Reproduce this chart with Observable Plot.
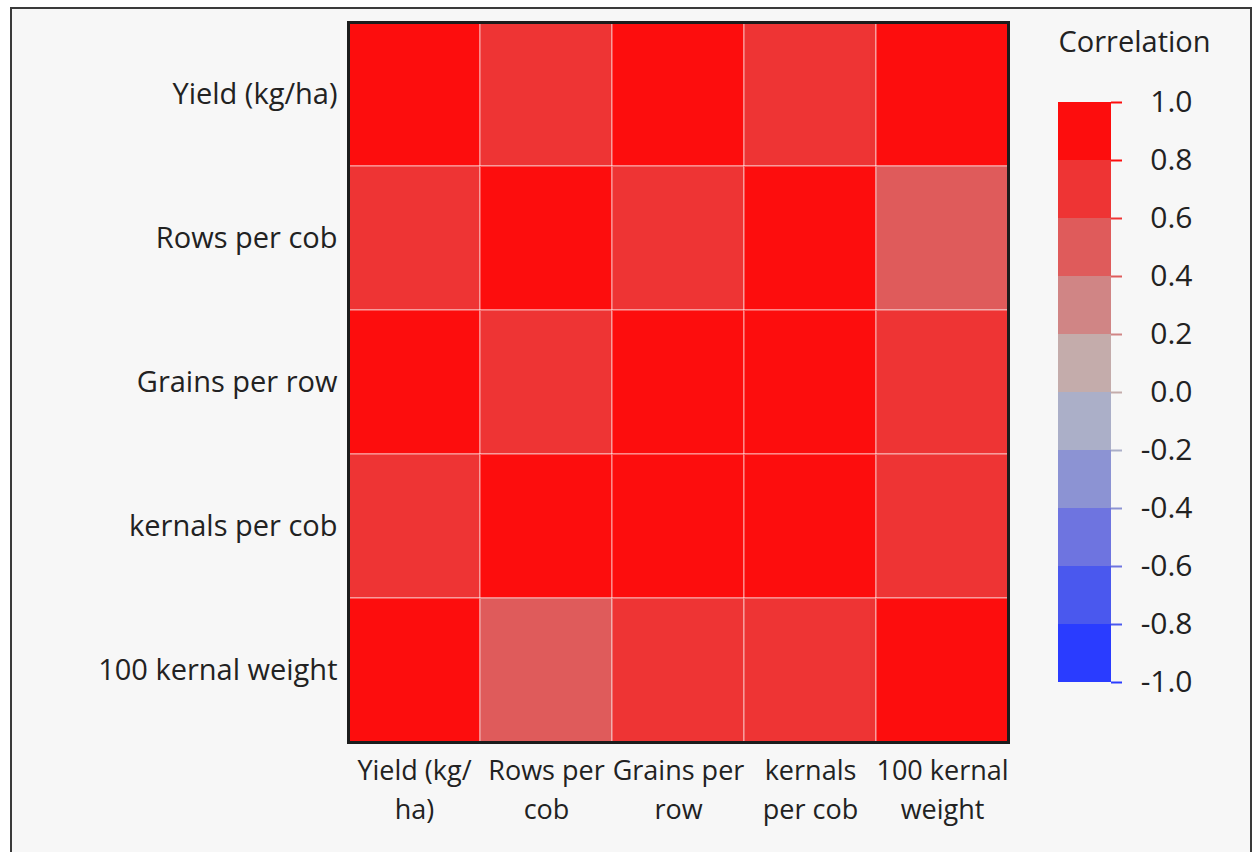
<!DOCTYPE html>
<html>
<head>
<meta charset="utf-8">
<script src="https://cdn.jsdelivr.net/npm/d3@7"></script>
<script src="https://cdn.jsdelivr.net/npm/@observablehq/plot@0.6"></script>
<style>
  html, body { margin: 0; padding: 0; background: #ffffff; }
  #page { position: relative; width: 1252px; height: 852px; overflow: hidden; }
  #frame { position: absolute; left: 10px; top: 7px; width: 1238px; height: 860px;
           border: 2px solid #3a3a3a; background: #f7f7f7; }
  #main { position: absolute; left: 0; top: 0; }
  #legend { position: absolute; left: 1040px; top: 0; }
</style>
</head>
<body>
<div id="page">
  <div id="frame"></div>
  <div id="main"></div>
  <div id="legend"></div>
</div>
<script>
// ---- data ----
const rowLabels = ["Yield (kg/ha)", "Rows per cob", "Grains per row", "kernals per cob", "100 kernal weight"];
const colLabels = ["Yield (kg/\nha)", "Rows per\ncob", "Grains per\nrow", "kernals\nper cob", "100 kernal\nweight"];
const correlations = [
  [1.00, 0.72, 0.93, 0.74, 0.88],
  [0.72, 1.00, 0.70, 0.90, 0.52],
  [0.93, 0.70, 1.00, 0.92, 0.68],
  [0.74, 0.90, 0.92, 1.00, 0.66],
  [0.88, 0.52, 0.68, 0.66, 1.00]
];
const binEdges = [-1.0, -0.8, -0.6, -0.4, -0.2, 0.0, 0.2, 0.4, 0.6, 0.8, 1.0];
const binColors = ["#2a3cff", "#4a58ee", "#6e74e0", "#8c93d3", "#abafc8",
                   "#c4acab", "#d08585", "#df5b5b", "#ee3434", "#fd0d0d"];
const legendTicks = [1.0, 0.8, 0.6, 0.4, 0.2, 0.0, -0.2, -0.4, -0.6, -0.8, -1.0];
const legendTickLabels = ["1.0", "0.8", "0.6", "0.4", "0.2", "0.0", "-0.2", "-0.4", "-0.6", "-0.8", "-1.0"];
const legendTitle = "Correlation";

// ---- tidy table ----
const cells = [];
rowLabels.forEach((r, i) => colLabels.forEach((c, j) => cells.push({row: r, col: c, value: correlations[i][j]})));
const bins = binColors.map((col, i) => ({lo: binEdges[i], hi: binEdges[i + 1]}));

const colorScale = {type: "threshold", domain: binEdges.slice(1, -1), range: binColors};
const font = {fontFamily: "'Open Sans', sans-serif", fontSize: "27px", color: "#222", background: "transparent", overflow: "visible"};

// ---- main heatmap ----
const main = Plot.plot({
  width: 1252, height: 852,
  marginLeft: 348, marginRight: 244, marginTop: 22, marginBottom: 110,
  style: font,
  x: {domain: colLabels, padding: 0, label: null},
  y: {domain: rowLabels, padding: 0, label: null},
  color: colorScale,
  marks: [
    Plot.cell(cells, {x: "col", y: "row", fill: "value", stroke: "#ffffff", strokeOpacity: 0.3, strokeWidth: 2}),
    Plot.frame({stroke: "#1c1c1c", strokeWidth: 3}),
    Plot.axisY({tickSize: 0, tickPadding: 11, label: null, fontSize: 29}),
    Plot.axisX({tickSize: 0, tickPadding: 10, label: null, fontSize: 27, lineHeight: 1.45})
  ]
});
document.getElementById("main").appendChild(main);

// ---- legend ----
const legend = Plot.plot({
  width: 200, height: 720,
  marginLeft: 18, marginRight: 118, marginTop: 102, marginBottom: 38,
  style: font,
  y: {domain: [-1, 1], axis: null},
  color: colorScale,
  marks: [
    Plot.rect(bins, {y1: "lo", y2: "hi", fill: d => (d.lo + d.hi) / 2, insetRight: 11}),
    Plot.tickY(legendTicks, {y: d => d, stroke: d => d, strokeWidth: 2, insetLeft: 53}),
    Plot.text(legendTicks, {y: d => d, text: (d, i) => legendTickLabels[i], frameAnchor: "right", textAnchor: "end", dx: 70, fontSize: 30}),
    Plot.text([legendTitle], {text: d => d, frameAnchor: "top-left", textAnchor: "start", lineAnchor: "middle", dy: -60, fontSize: 29})
  ]
});
document.getElementById("legend").appendChild(legend);
</script>
</body>
</html>
